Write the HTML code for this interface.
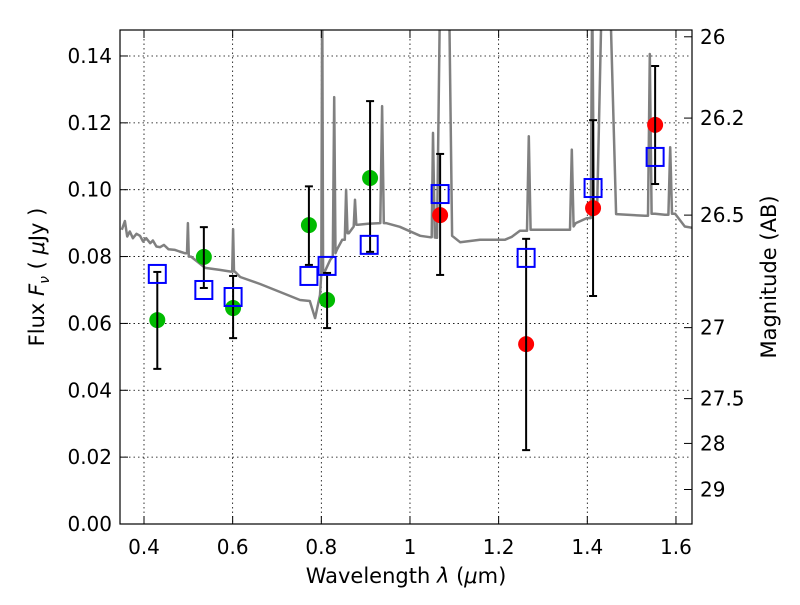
<!DOCTYPE html>
<html><head><meta charset="utf-8"><style>
body{margin:0;background:#fff;}
svg text{font-family:"DejaVu Sans","Liberation Sans",sans-serif;fill:#000;}
</style></head><body>
<svg id="chart" width="800" height="600" viewBox="0 0 800 600">
<defs><clipPath id="clip"><rect x="120" y="30" width="572" height="494"/></clipPath></defs>
<rect x="0" y="0" width="800" height="600" fill="#fff"/>
<g id="grid"></g>
<g id="spec" clip-path="url(#clip)"></g>
<g id="marks" clip-path="url(#clip)"></g>
<rect x="120" y="30" width="572" height="494" fill="none" stroke="#000" stroke-width="1.2"/>
<g id="axes"></g>
<text x="406" y="583" font-size="21" text-anchor="middle">Wavelength  <tspan font-style="italic">λ</tspan> (<tspan font-style="italic">μ</tspan>m)</text>
<text transform="translate(44,277) rotate(-90)" font-size="21" text-anchor="middle">Flux  <tspan font-style="italic">F<tspan font-size="14" dy="5">ν</tspan></tspan><tspan dy="-5">  ( </tspan><tspan font-style="italic">μ</tspan>Jy )</text>
<text transform="translate(776,277) rotate(-90)" font-size="21" text-anchor="middle">Magnitude (AB)</text>
</svg>
<script>
const specW=[0.35,0.357,0.362,0.368,0.375,0.383,0.391,0.398,0.405,0.414,0.42,0.428,0.436,0.445,0.455,0.470,0.480,0.492,0.497,0.499,0.501,0.506,0.538,0.571,0.596,0.599,0.601,0.603,0.605,0.617,0.662,0.707,0.752,0.774,0.786,0.797,0.800,0.802,0.804,0.806,0.820,0.826,0.829,0.832,0.835,0.847,0.853,0.856,0.859,0.862,0.873,0.876,0.879,0.883,0.905,0.933,0.937,0.941,0.946,0.977,1.023,1.045,1.049,1.052,1.056,1.061,1.068,1.088,1.095,1.113,1.158,1.214,1.230,1.248,1.264,1.268,1.272,1.277,1.338,1.361,1.365,1.369,1.374,1.399,1.408,1.411,1.415,1.422,1.433,1.451,1.465,1.530,1.537,1.541,1.545,1.553,1.575,1.583,1.587,1.591,1.598,1.620,1.637];
const specF=[0.088,0.0906,0.086,0.0875,0.0855,0.0868,0.0862,0.0845,0.0855,0.084,0.0848,0.083,0.0828,0.0835,0.0822,0.082,0.0815,0.081,0.081,0.090,0.080,0.080,0.0766,0.076,0.0755,0.0755,0.0882,0.0755,0.0755,0.0739,0.0718,0.0694,0.067,0.0667,0.0616,0.0685,0.075,0.16,0.075,0.075,0.079,0.080,0.1277,0.081,0.082,0.085,0.085,0.100,0.087,0.087,0.089,0.097,0.0895,0.0895,0.0898,0.090,0.125,0.090,0.090,0.0889,0.0862,0.0858,0.0858,0.117,0.0857,0.0856,0.16,0.16,0.0862,0.0843,0.085,0.085,0.0859,0.0877,0.0877,0.116,0.088,0.088,0.088,0.088,0.112,0.089,0.090,0.0915,0.0915,0.16,0.094,0.094,0.16,0.16,0.0927,0.0922,0.0922,0.1406,0.0928,0.0928,0.0925,0.0925,0.1127,0.0928,0.0928,0.089,0.0886];
const greenW=[0.43,0.535,0.601,0.772,0.813,0.91];
const greenF=[0.061,0.0799,0.0646,0.0894,0.067,0.1035];
const redW=[1.068,1.262,1.413,1.553];
const redF=[0.0924,0.0538,0.0945,0.1194];
const errW=[0.43,0.535,0.601,0.772,0.813,0.91,1.068,1.262,1.413,1.553];
const errHi=[0.0754,0.0888,0.0742,0.101,0.0751,0.1265,0.1107,0.0853,0.1208,0.137];
const errLo=[0.0464,0.0706,0.0556,0.0775,0.0586,0.0814,0.0745,0.0221,0.0682,0.1017];
const sqW=[0.43,0.535,0.601,0.772,0.813,0.908,1.068,1.262,1.413,1.553];
const sqF=[0.0748,0.070,0.0679,0.0742,0.0772,0.0835,0.0987,0.0796,0.1005,0.1098];
const xTicks=[0.4,0.6,0.8,1.0,1.2,1.4,1.6];
const xTickLabels=["0.4","0.6","0.8","1","1.2","1.4","1.6"];
const yTicks=[0,0.02,0.04,0.06,0.08,0.10,0.12,0.14];
const yTickLabels=["0.00","0.02","0.04","0.06","0.08","0.10","0.12","0.14"];
const magTicks=[26,26.2,26.5,27,27.5,28,29];
const magLabels=["26","26.2","26.5","27","27.5","28","29"];

const NS="http://www.w3.org/2000/svg";
const X=w=>144+(w-0.4)*443.3;
const Y=f=>524-f*3343;
const magFlux=m=>Math.pow(10,(23.9-m)/2.5);
function mk(tag,attrs,parent){const e=document.createElementNS(NS,tag);for(const k in attrs)e.setAttribute(k,attrs[k]);parent.appendChild(e);return e;}
const grid=document.getElementById('grid'),spec=document.getElementById('spec'),marks=document.getElementById('marks'),axes=document.getElementById('axes');

xTicks.forEach((t,i)=>{
  const g=mk('line',{x1:X(t),x2:X(t),y1:30,y2:524,stroke:'#000','stroke-width':0.8,'stroke-dasharray':'1.5,3'},grid);
  
  
  mk('line',{x1:X(t),x2:X(t),y1:524,y2:516,stroke:'#000'},axes);
  mk('line',{x1:X(t),x2:X(t),y1:30,y2:38,stroke:'#000'},axes);
  const tx=mk('text',{x:X(t),y:554,'font-size':20,'text-anchor':'middle'},axes);
  tx.textContent=xTickLabels[i];
  
  
});
yTicks.forEach((t,i)=>{
  if(t>0){const g=mk('line',{x1:120,x2:692,y1:Y(t),y2:Y(t),stroke:'#000','stroke-width':0.8,'stroke-dasharray':'1.5,3'},grid);
  
  }
  mk('line',{x1:120,x2:128,y1:Y(t),y2:Y(t),stroke:'#000'},axes);
  const tx=mk('text',{x:112,y:Y(t)+7,'font-size':20,'text-anchor':'end'},axes);
  tx.textContent=yTickLabels[i];
  
  
});
magTicks.forEach((m,i)=>{
  const y=Y(magFlux(m))-4;
  mk('line',{x1:692,x2:684,y1:y,y2:y,stroke:'#000'},axes);
  const tx=mk('text',{x:700,y:y+7,'font-size':20},axes);
  tx.textContent=magLabels[i];
  
  
});

const pts=specW.map((w,i)=>X(w).toFixed(1)+','+Y(specF[i]).toFixed(1)).join(' ');
const pl=mk('polyline',{points:pts,fill:'none',stroke:'#808080','stroke-width':2.5,'stroke-linejoin':'round'},spec);



greenW.forEach((w,i)=>{
  const c=mk('circle',{cx:X(w),cy:Y(greenF[i]),r:8,fill:'#00bb00'},marks);
  
  
});
redW.forEach((w,i)=>{
  const c=mk('circle',{cx:X(w),cy:Y(redF[i]),r:8,fill:'#ff0000'},marks);
  
  
});
errW.forEach((w,i)=>{
  const x=X(w),g=mk('g',{stroke:'#000','stroke-width':2},marks);
  
  
  mk('line',{x1:x,x2:x,y1:Y(errHi[i]),y2:Y(errLo[i])},g);
  mk('line',{x1:x-4,x2:x+4,y1:Y(errHi[i]),y2:Y(errHi[i])},g);
  mk('line',{x1:x-4,x2:x+4,y1:Y(errLo[i]),y2:Y(errLo[i])},g);
});
sqW.forEach((w,i)=>{
  const r=mk('rect',{x:X(w)-8.5,y:Y(sqF[i])-9,width:17,height:18,fill:'none',stroke:'#0000ff','stroke-width':2},marks);
  
  
});
</script>
</body></html>
